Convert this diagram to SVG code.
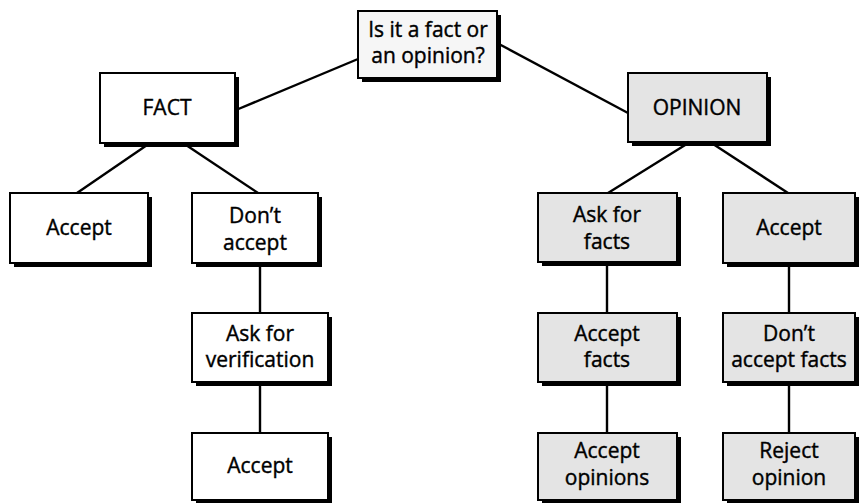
<svg xmlns="http://www.w3.org/2000/svg" width="860" height="503" viewBox="0 0 860 503">
<style>
.sh{fill:#000}
.bx{stroke:#000;stroke-width:2}
.w{fill:#fff}
.t{fill:#f6f6f6}
.g{fill:#e4e4e4}
.lbl{font-family:"Open Sans","Noto Sans",sans-serif;font-size:21px;fill:#000;stroke:#000;stroke-width:0.4;text-anchor:middle}
.ln{stroke:#000;stroke-width:2.4;fill:none}
</style>
<rect width="860" height="503" fill="#fff"/>
<g id="connectors">
<line class="ln" x1="358" y1="59" x2="236" y2="110"/>
<line class="ln" x1="497" y1="43" x2="628" y2="113"/>
<line class="ln" x1="150" y1="143" x2="77" y2="193"/>
<line class="ln" x1="183" y1="143" x2="258" y2="193"/>
<line class="ln" x1="690" y1="142" x2="608" y2="193"/>
<line class="ln" x1="710" y1="142" x2="788" y2="193"/>
<line class="ln" x1="260" y1="263" x2="260" y2="313"/>
<line class="ln" x1="260" y1="382" x2="260" y2="433"/>
<line class="ln" x1="607" y1="262" x2="607" y2="313"/>
<line class="ln" x1="607" y1="382" x2="607" y2="433"/>
<line class="ln" x1="789" y1="263" x2="789" y2="313"/>
<line class="ln" x1="789" y1="382" x2="789" y2="433"/>
</g>
<g id="question">
<rect class="sh" x="362" y="15" width="139" height="67"/>
<rect class="bx t" x="358" y="11" width="139" height="67"/>
<text class="lbl" x="428" y="37">Is it a fact or</text>
<text class="lbl" x="428" y="63">an opinion?</text>
</g>
<g id="fact">
<rect class="sh" x="104" y="77" width="135" height="70"/>
<rect class="bx w" x="100" y="73" width="135" height="70"/>
<text class="lbl" x="167" y="115">FACT</text>
</g>
<g id="opinion">
<rect class="sh" x="632" y="77" width="139" height="69"/>
<rect class="bx g" x="628" y="73" width="139" height="69"/>
<text class="lbl" x="697" y="115">OPINION</text>
</g>
<g id="fact-accept">
<rect class="sh" x="14" y="197" width="138" height="70"/>
<rect class="bx w" x="10" y="193" width="138" height="70"/>
<text class="lbl" x="79" y="235">Accept</text>
</g>
<g id="fact-dont-accept">
<rect class="sh" x="196" y="197" width="126" height="70"/>
<rect class="bx w" x="192" y="193" width="126" height="70"/>
<text class="lbl" x="255" y="223">Don’t</text>
<text class="lbl" x="255" y="250">accept</text>
</g>
<g id="ask-verification">
<rect class="sh" x="196" y="317" width="136" height="69"/>
<rect class="bx w" x="192" y="313" width="136" height="69"/>
<text class="lbl" x="260" y="341">Ask for</text>
<text class="lbl" x="260" y="367">verification</text>
</g>
<g id="fact-accept-final">
<rect class="sh" x="196" y="437" width="136" height="67"/>
<rect class="bx w" x="192" y="433" width="136" height="67"/>
<text class="lbl" x="260" y="473">Accept</text>
</g>
<g id="ask-facts">
<rect class="sh" x="542" y="197" width="139" height="69"/>
<rect class="bx g" x="538" y="193" width="139" height="69"/>
<text class="lbl" x="607" y="222">Ask for</text>
<text class="lbl" x="607" y="249">facts</text>
</g>
<g id="opinion-accept">
<rect class="sh" x="727" y="197" width="132" height="70"/>
<rect class="bx g" x="723" y="193" width="132" height="70"/>
<text class="lbl" x="789" y="235">Accept</text>
</g>
<g id="accept-facts">
<rect class="sh" x="542" y="317" width="139" height="69"/>
<rect class="bx g" x="538" y="313" width="139" height="69"/>
<text class="lbl" x="607" y="341">Accept</text>
<text class="lbl" x="607" y="367">facts</text>
</g>
<g id="dont-accept-facts">
<rect class="sh" x="727" y="317" width="132" height="69"/>
<rect class="bx g" x="723" y="313" width="132" height="69"/>
<text class="lbl" x="789" y="341">Don’t</text>
<text class="lbl" x="789" y="367">accept facts</text>
</g>
<g id="accept-opinions">
<rect class="sh" x="542" y="437" width="139" height="67"/>
<rect class="bx g" x="538" y="433" width="139" height="67"/>
<text class="lbl" x="607" y="458">Accept</text>
<text class="lbl" x="607" y="485">opinions</text>
</g>
<g id="reject-opinion">
<rect class="sh" x="727" y="437" width="132" height="67"/>
<rect class="bx g" x="723" y="433" width="132" height="67"/>
<text class="lbl" x="789" y="458">Reject</text>
<text class="lbl" x="789" y="485">opinion</text>
</g>
</svg>
